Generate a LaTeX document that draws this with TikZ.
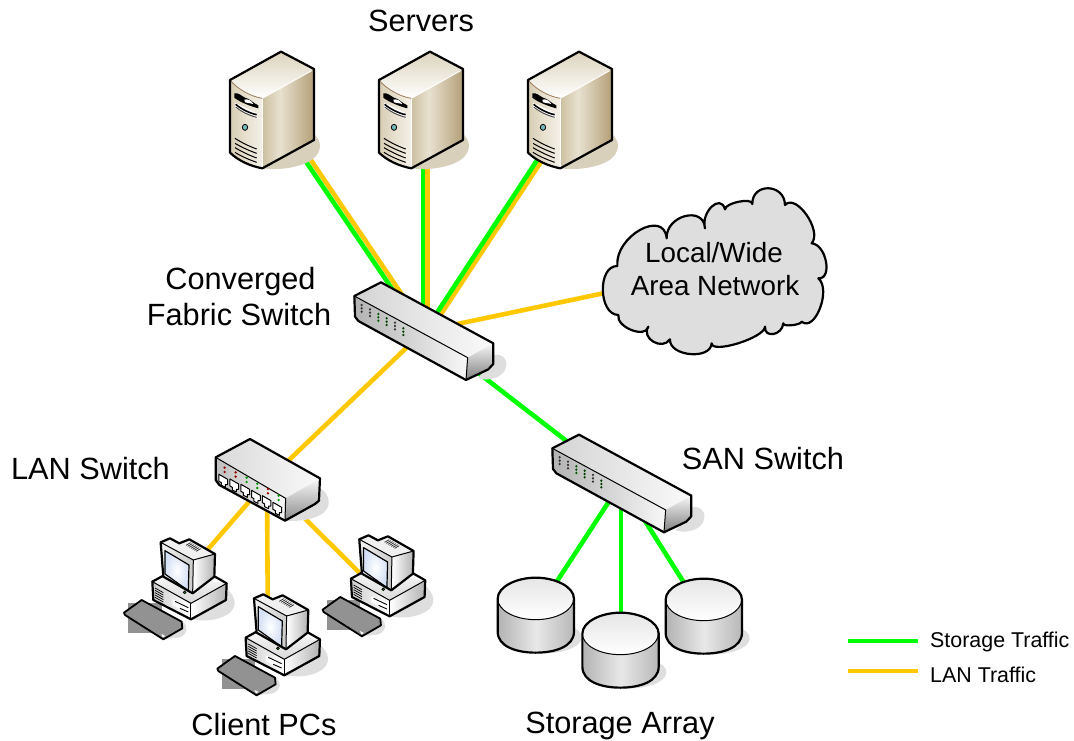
\documentclass[tikz,border=0pt]{standalone}
\usepackage{fontspec}
\setmainfont{Liberation Sans}
\definecolor{lan}{RGB}{255,200,0}
\definecolor{stor}{RGB}{0,255,0}
\definecolor{shadowgray}{RGB}{222,222,222}
\definecolor{beige}{RGB}{217,208,188}
\definecolor{tanl}{RGB}{232,225,208}
\definecolor{tanm}{RGB}{205,192,160}
\definecolor{tand}{RGB}{180,160,120}
\definecolor{screenb}{RGB}{212,224,245}
\definecolor{keygray}{RGB}{146,146,146}
\pgfdeclarehorizontalshading{srvside}{100bp}{color(0bp)=(tanm); color(25bp)=(tanm); color(42bp)=(tanl); color(75bp)=(tand); color(100bp)=(tand)}
\tikzset{
  devbox/.style={inner sep=0pt,minimum size=4pt},
  lanlink/.style={draw=lan,line width=4.6pt},
  storlink/.style={draw=stor,line width=4.6pt},
  outline/.style={draw=black,line width=2.2pt,line join=round},
  big/.style={font=\fontsize{30.7}{34}\selectfont,anchor=base,text=black,inner sep=0pt},
  cloudtext/.style={font=\fontsize{27.8}{32}\selectfont,anchor=base,text=black,inner sep=0pt},
  legendtext/.style={font=\fontsize{21.4}{24}\selectfont,anchor=base west,text=black,inner sep=0pt},
}
\newcommand{\serverdev}[1]{%
\begin{scope}[shift={(#1,0)},shift={(210,30)},x=.3333pt,y=-.3333pt]
  \fill[beige] (157,415) -- (312,330) -- (315,315) .. controls (335,335) and (338,365) .. (305,390) .. controls (270,412) and (210,422) .. (157,415) -- cycle;
  \path[shade,shading=srvside,shading angle=0] (157,205) -- (312,117) -- (312,330) -- (157,415) -- cycle;
  \path[shade,shading angle=200,top color=tanm!70!white,bottom color=white] (60,150) -- (213,65) -- (312,117) -- (157,205) .. controls (125,200) and (85,180) .. (60,150) -- cycle;
  \path[shade,shading angle=0,left color=tanm!80!white,right color=tanl!50!white,middle color=tanl] (60,150) .. controls (85,180) and (125,200) .. (157,205) -- (157,415) .. controls (120,408) and (85,392) .. (60,368) -- cycle;
  \draw[white,line width=.9pt] (157,205) -- (305,122);
  \draw[white,line width=.9pt] (157,205) -- (157,415);
  \draw[brown!70!black!80,line width=.8pt] (60,150) .. controls (85,180) and (125,200) .. (157,205);
  \fill[black] (73,190) .. controls (85,187) and (95,198) .. (105,203) .. controls (118,205) and (130,220) .. (145,226) -- (145,235) .. controls (125,230) and (90,217) .. (73,203) -- cycle;
  \fill[white] (75,218) -- (142,250) -- (142,266) -- (75,235) -- cycle;
  \fill[white] (103,209) .. controls (113,205) and (125,213) .. (130,222) -- (105,217) -- cycle;
  \draw[black,line width=1.6pt] (77,223) .. controls (95,238) and (120,250) .. (140,254);
  \draw[black!70,line width=1pt] (77,231) .. controls (95,246) and (120,257) .. (140,262);
  \draw[black,line width=.8pt,fill=teal!55!white] (105,292) ellipse [x radius=8,y radius=9];
  \draw[black,line width=1pt] (75,325) .. controls (95,338) and (120,350) .. (140,357);
  \draw[black,line width=1pt] (75,340) .. controls (95,352) and (120,363) .. (140,370);
  \draw[black,line width=1pt] (75,353) .. controls (95,365) and (120,377) .. (140,384);
  \draw[black,line width=1pt] (75,367) .. controls (95,380) and (120,390) .. (140,397);
  \draw[outline] (60,150) -- (213,65) -- (312,117) -- (312,330) -- (157,415) .. controls (120,408) and (85,392) .. (60,368) -- cycle;
\end{scope}}
\newcommand{\longswitch}[2]{%
\begin{scope}[shift={(#1,#2)},shift={(340,260)},x=.3333pt,y=-.3333pt]
  \fill[shadowgray] (460,285) .. controls (490,280) and (505,300) .. (497,325) .. controls (490,350) and (450,365) .. (415,355) -- cycle;
  \path[shade,shading angle=20,left color=black!17,right color=black!2] (43,108) -- (123,67) -- (460,250) -- (383,293) -- cycle;
  \path[shade,shading angle=0,left color=black!30,right color=black!3] (43,108) -- (383,293) -- (378,360) -- (55,183) -- (43,170) -- cycle;
  \path[shade,top color=black!3,bottom color=black!50] (383,293) -- (460,250) -- (460,312) -- (445,328) -- (378,360) -- cycle;
  \draw[black,line width=1pt] (43,108) -- (383,293) -- (378,360);
  \draw[outline] (43,108) -- (123,67) -- (460,250) -- (460,312) -- (445,328) -- (378,360) -- (55,183) -- (45,170) -- cycle;
  \foreach \xx/\yy/\cc in {65/145/black!80,90/158/black!80,115/172/green!35!black,140/185/green!25!black,165/198/black!80,190/215/green!25!black}{
    \foreach \dd in {-10,0,10}{\fill[\cc] (\xx,\yy+\dd) ellipse [x radius=3.6,y radius=4];}
  }
\end{scope}}
\newcommand{\lanswitch}{%
\begin{scope}[shift={(120,430)},x=.3333pt,y=-.3333pt]
  \fill[shadowgray] (600,175) .. controls (630,190) and (640,235) .. (600,255) .. controls (575,270) and (530,275) .. (495,272) -- cycle;
  \path[shade,shading angle=20,left color=black!15,right color=black!2] (287,82) -- (390,27) -- (600,145) -- (497,205) -- cycle;
  \path[shade,shading angle=0,left color=black!25,right color=black!3] (287,82) -- (497,205) -- (495,272) -- (298,165) -- (287,150) -- cycle;
  \path[shade,top color=black!3,bottom color=black!45] (497,205) -- (600,145) -- (597,212) -- (585,222) -- (495,272) -- cycle;
  \draw[black,line width=1pt] (287,82) -- (497,205) -- (495,272);
  \draw[outline] (287,82) -- (390,27) -- (600,145) -- (597,212) -- (585,222) -- (495,272) -- (298,165) -- (287,150) -- cycle;
  \foreach \xx/\yy/\cc in {310/148/red!60!black,343/162/red!60!black,376/178/green!60!black,408/196/green!60!black,440/212/red!60!black,472/232/green!60!black}{
    \fill[\cc] (\xx+4,\yy-35) circle (4);
    \fill[\cc] (\xx+4,\yy-22) circle (4);
    \draw[black,line width=1pt,fill=white,line join=round] (\xx-13,\yy-15) -- (\xx+13,\yy) -- (\xx+13,\yy+16) -- (\xx+6,\yy+16) -- (\xx+6,\yy+24) -- (\xx-6,\yy+18) -- (\xx-6,\yy+10) -- (\xx-13,\yy+6) -- cycle;
  }
\end{scope}}
\newcommand{\pcdev}[2]{%
\begin{scope}[shift={(#1,#2)},shift={(120,430)},x=.3333pt,y=-.3333pt]
  \fill[shadowgray] (318,475) .. controls (350,500) and (355,535) .. (320,555) .. controls (290,572) and (250,575) .. (215,568) -- cycle;
  \fill[shadowgray] (188,575) .. controls (205,590) and (205,610) .. (180,622) -- (130,628) -- cycle;
  \fill[keygray] (25,520) rectangle (125,610);
  \draw[fill=keygray,draw=black,line width=1.8pt,line join=round] (65,510) -- (185,575) -- (187,595) -- (130,628) -- (15,555) -- (12,548) -- cycle;
  \fill[white] (124,612) -- (136,618) -- (128,622) -- cycle;
  % base
  \path[shade,top color=black!3,bottom color=black!15] (97,455) -- (135,435) -- (320,460) -- (213,520) -- cycle;
  \path[shade,left color=black!20,right color=white] (97,455) -- (213,520) -- (213,568) -- (100,510) -- cycle;
  \path[shade,left color=white,right color=black!30] (213,520) -- (320,460) -- (318,510) -- (213,568) -- cycle;
  \fill[white] (158,508) -- (208,530) -- (208,552) -- (158,525) -- cycle;
  \draw[black,line width=.9pt] (165,514) -- (205,533);
  \draw[black,line width=.9pt] (180,535) -- (205,546);
  \foreach \ii in {0,1,2,3,4}{\draw[black,line width=.7pt] (105,474+\ii*7) -- (130,488+\ii*7);}
  \draw[outline] (97,455) -- (130,437) -- (285,440) -- (320,460) -- (318,510) -- (213,568) -- (100,510) -- cycle;
  \draw[black,line width=1pt] (97,455) -- (213,520) -- (320,460);
  \draw[black,line width=1pt] (213,520) -- (213,568);
  % monitor
  \path[shade,left color=white,right color=black!30] (220,390) -- (285,372) -- (283,440) -- (220,490) -- cycle;
  \path[shade,left color=black!5,right color=black!20] (122,337) -- (220,390) -- (218,490) -- (130,440) -- cycle;
  \path[fill=black!6] (122,337) -- (150,325) -- (178,340) -- (208,328) -- (285,372) -- (220,390) -- cycle;
  \path[inner color=white,outer color=screenb,draw=black,line width=1.2pt,line join=round] (135,362) -- (207,405) -- (205,482) -- (135,432) -- cycle;
  \foreach \ii in {0,...,6}{\draw[black!85,line width=.7pt] (198+\ii*5,346+\ii*3) -- (212+\ii*5,338+\ii*3);}
  \draw[black,line width=1pt] (122,337) -- (220,390) -- (285,372);
  \draw[black,line width=1pt] (220,390) -- (218,490);
  \draw[outline] (122,337) -- (150,325) -- (178,340) -- (208,328) -- (285,372) -- (283,440) -- (218,490) -- (130,440) -- cycle;
  \draw[black,line width=.8pt,fill=green!50!gray] (194,487) circle (4);
\end{scope}}
\newcommand{\diskdev}[2]{%
\begin{scope}[shift={(#1,#2)},shift={(490,430)},x=.3333pt,y=-.3333pt]
  \fill[shadowgray] (165,622) ellipse [x radius=110,y radius=48];
  \path[shade,left color=black!30,right color=black!28,middle color=black!9] (23,506) -- (23,605) .. controls (23,650) and (80,668) .. (137,668) .. controls (195,668) and (252,650) .. (252,605) -- (252,506) -- cycle;
  \path[shade,top color=black!10,bottom color=white,draw=black,line width=1pt] (137,506) ellipse [x radius=114,y radius=63];
  \draw[outline] (23,506) .. controls (23,470) and (80,443) .. (137,443) .. controls (195,443) and (252,470) .. (252,506) -- (252,605) .. controls (252,650) and (195,668) .. (137,668) .. controls (80,668) and (23,650) .. (23,605) -- cycle;
\end{scope}}
\begin{document}
\begin{tikzpicture}[x=1pt,y=-1pt]
\useasboundingbox (0,0) rectangle (1074,740);
% invisible device anchors
\node[devbox] (srv1) at (272,110) {};
\node[devbox] (srv2) at (421,110) {};
\node[devbox] (srv3) at (570,110) {};
\node[devbox] (fabric) at (424,331) {};
\node[devbox] (cloud) at (714,270) {};
\node[devbox] (lansw) at (267,481) {};
\node[devbox] (sansw) at (621,483) {};
\node[devbox] (pc1) at (190,570) {};
\node[devbox] (pc2) at (268,650) {};
\node[devbox] (pc3) at (390,603) {};
\node[devbox] (disk1) at (535,615) {};
\node[devbox] (disk2) at (621,650) {};
\node[devbox] (disk3) at (705,616) {};
\coordinate (lg1) at (848,641);
\coordinate (lg2) at (918,641);
\coordinate (ll1) at (848,671);
\coordinate (ll2) at (918,671);
% connectors
\draw[lanlink] ([xshift=5pt]srv1.center) -- ([xshift=2.6pt]fabric.center);
\draw[storlink] ([xshift=-1pt]srv1.center) -- ([xshift=-3.4pt]fabric.center);
\draw[lanlink] ([xshift=6.5pt]srv2.center) -- ([xshift=3.5pt]fabric.center);
\draw[storlink] ([xshift=2pt]srv2.center) -- ([xshift=-1pt]fabric.center);
\draw[lanlink] ([xshift=5pt]srv3.center) -- ([xshift=6pt]fabric.center);
\draw[storlink] (srv3.center) -- ([xshift=1pt]fabric.center);
\draw[lanlink] (fabric.center) -- (cloud.center);
\draw[lanlink] (fabric.center) -- (lansw.center);
\draw[storlink] (fabric.center) -- (sansw.center);
\draw[lanlink] (lansw.center) -- (pc1.center);
\draw[lanlink] (lansw.center) -- (pc2.center);
\draw[lanlink] (lansw.center) -- (pc3.center);
\draw[storlink] (sansw.center) -- (disk1.center);
\draw[storlink] (sansw.center) -- (disk2.center);
\draw[storlink] (sansw.center) -- (disk3.center);
\draw[storlink,line width=4pt] (lg1) -- (lg2);
\draw[lanlink,line width=4pt] (ll1) -- (ll2);
% devices
\serverdev{0}\serverdev{149}\serverdev{298}
\begin{scope}[shift={(590,180)},x=.3333pt,y=-.3333pt]
\draw[outline,fill=shadowgray] (82,258)
 .. controls (74,169) and (222,86) .. (230,175)
 .. controls (227,106) and (342,76) .. (345,145)
 .. controls (332,96) and (392,39) .. (405,88)
 .. controls (406,68) and (488,52) .. (487,72)
 .. controls (486,7) and (584,10) .. (585,75)
 .. controls (618,38) and (698,153) .. (665,190)
 .. controls (709,193) and (729,298) .. (685,295)
 .. controls (725,328) and (675,458) .. (635,425)
 .. controls (632,436) and (577,441) .. (580,430)
 .. controls (577,466) and (522,476) .. (525,440)
 .. controls (525,473) and (365,523) .. (365,490)
 .. controls (362,541) and (237,529) .. (240,478)
 .. controls (217,513) and (152,475) .. (175,440)
 .. controls (168,477) and (78,442) .. (85,405)
 .. controls (25,404) and (22,257) .. (82,258) -- cycle;
\end{scope}
\longswitch{0}{0}
\longswitch{198}{152.3}
\lanswitch
\pcdev{0}{0}
\pcdev{198.6}{-3}
\pcdev{93.3}{56}
\diskdev{0}{0}
\diskdev{168}{1}
\diskdev{84.7}{35}
% labels
\node[big] (tservers) at (421,31) {Servers};
\node[big] (tconv) at (240.5,289) {Converged};
\node[big] (tfab) at (239,325) {Fabric Switch};
\node[big] (tlan) at (90.5,479) {LAN Switch};
\node[big] (tsan) at (763,469) {SAN Switch};
\node[big] (tclient) at (264,735) {Client PCs};
\node[big] (tstore) at (620,733) {Storage Array};
\node[cloudtext] (tlocal) at (714,262) {Local/Wide};
\node[cloudtext] (tarea) at (715,295) {Area Network};
\node[legendtext] (tlg) at (930,647.5) {Storage Traffic};
\node[legendtext] (tll) at (930,682) {LAN Traffic};
\end{tikzpicture}
\end{document}
